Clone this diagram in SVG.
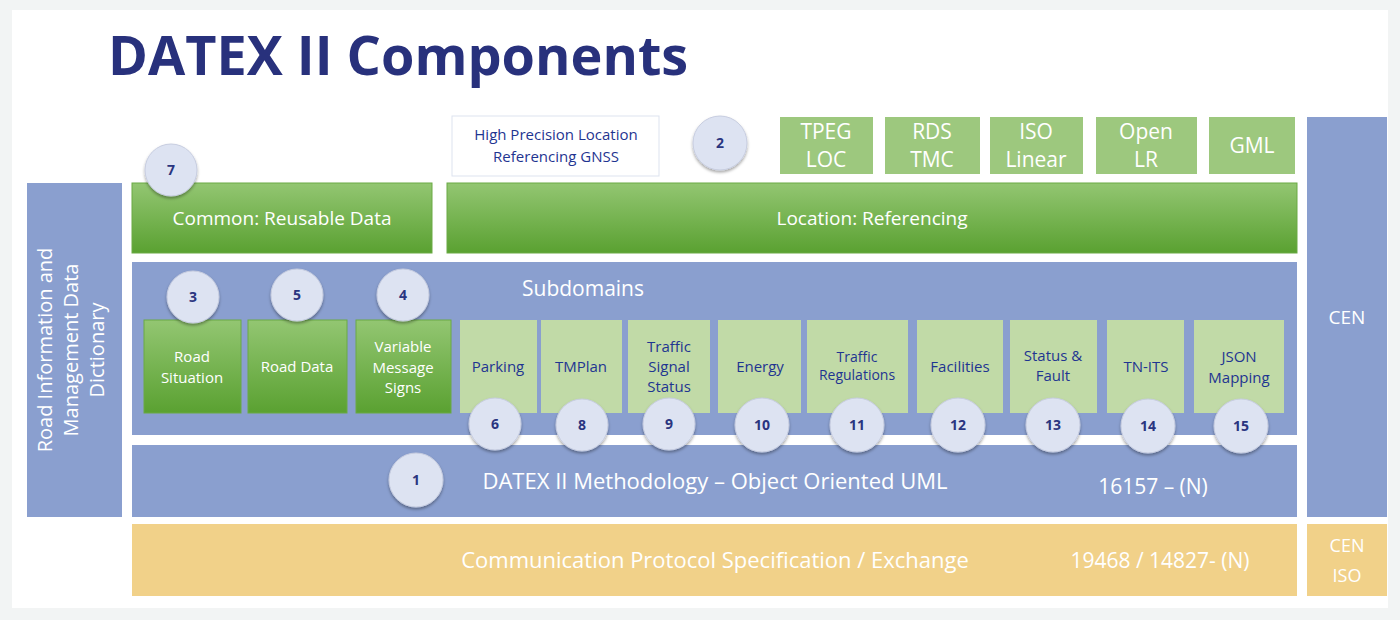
<svg xmlns="http://www.w3.org/2000/svg" width="1400" height="620" viewBox="0 0 1400 620">
<defs>
<linearGradient id="g" x1="0" y1="0" x2="0" y2="1"><stop offset="0" stop-color="#93c672"/><stop offset="1" stop-color="#5aa131"/></linearGradient>
<filter id="sh" x="-30%" y="-30%" width="160%" height="170%"><feDropShadow dx="0" dy="2" stdDeviation="1.5" flood-color="#000" flood-opacity="0.35"/></filter>
<style>
text{font-family:"Open Sans","Noto Sans",sans-serif;text-anchor:middle}
.blue{fill:#8a9fcf}
.dg{fill:url(#g);stroke:#6aaa45;stroke-width:1}
.lg{fill:#c1daa7}
.tg{fill:#9dc87e}
.yel{fill:#f1d189}
.w{fill:#fff}
.d{fill:#1f3591;font-size:15px}
.c circle{fill:#dde3f2;stroke:#c7cde0;filter:url(#sh)}
.c text{fill:#2a3580;font-weight:bold;font-size:14px}
</style>
</defs>
<rect width="1400" height="620" fill="#f2f4f4"/>
<rect x="12" y="10" width="1376" height="598" fill="#fff"/>
<text x="108" y="75" style="text-anchor:start;font-size:54px;font-weight:bold;fill:#28317c;font-family:'Open Sans',sans-serif">DATEX II Components</text>

<g id="dictionary"><rect class="blue" x="27" y="183" width="95" height="334"/>
<text transform="translate(74,350) rotate(-90)" class="w" style="font-size:20px"><tspan x="0" y="-22">Road Information and</tspan><tspan x="0" y="4">Management Data</tspan><tspan x="0" y="30">Dictionary</tspan></text></g>

<g id="common"><rect class="dg" x="132" y="183" width="300" height="70"/><text x="282" y="225" class="w" style="font-size:19px">Common: Reusable Data</text></g>
<g id="location"><rect class="dg" x="447" y="183" width="850" height="70"/><text x="872" y="225" class="w" style="font-size:19px">Location: Referencing</text></g>
<g id="hplr"><rect x="452" y="116" width="207" height="60" fill="#fff" stroke="#dde3ef"/><text class="d" x="556" y="140">High Precision Location</text><text class="d" x="556" y="162">Referencing GNSS</text></g>

<g id="tpeg"><rect class="tg" x="780" y="117" width="93" height="57"/><text class="w" x="826" y="139" style="font-size:21px">TPEG</text><text class="w" x="826" y="167" style="font-size:21px">LOC</text></g>
<g id="rds"><rect class="tg" x="885" y="117" width="95" height="57"/><text class="w" x="932" y="139" style="font-size:21px">RDS</text><text class="w" x="932" y="167" style="font-size:21px">TMC</text></g>
<g id="iso"><rect class="tg" x="990" y="117" width="93" height="57"/><text class="w" x="1036" y="139" style="font-size:21px">ISO</text><text class="w" x="1036" y="167" style="font-size:21px">Linear</text></g>
<g id="openlr"><rect class="tg" x="1096" y="117" width="101" height="57"/><text class="w" x="1146" y="139" style="font-size:21px">Open</text><text class="w" x="1146" y="167" style="font-size:21px">LR</text></g>
<g id="gml"><rect class="tg" x="1209" y="117" width="86" height="57"/><text class="w" x="1252" y="153" style="font-size:21px">GML</text></g>

<g id="cen"><rect class="blue" x="1307" y="117" width="80" height="400"/><text class="w" x="1347" y="324" style="font-size:19px">CEN</text></g>
<g id="ceniso"><rect class="yel" x="1307" y="524" width="80" height="72"/><text class="w" x="1347" y="552" style="font-size:18px">CEN</text><text class="w" x="1347" y="582" style="font-size:18px">ISO</text></g>

<g id="subdomains"><rect class="blue" x="132" y="262" width="1165" height="173"/><text class="w" x="583" y="296" style="font-size:21px">Subdomains</text></g>
<g id="roadsituation"><rect class="dg" x="144" y="320" width="97" height="93"/><text class="w" x="192" y="362" style="font-size:15px">Road</text><text class="w" x="192" y="383" style="font-size:15px">Situation</text></g>
<g id="roaddata"><rect class="dg" x="248" y="320" width="99" height="93"/><text class="w" x="297" y="372" style="font-size:15px">Road Data</text></g>
<g id="vms"><rect class="dg" x="356" y="320" width="95" height="93"/><text class="w" x="403" y="352" style="font-size:15px">Variable</text><text class="w" x="403" y="373" style="font-size:15px">Message</text><text class="w" x="403" y="393" style="font-size:15px">Signs</text></g>
<g id="parking"><rect class="lg" x="460" y="320" width="77" height="93"/><text class="d" x="498" y="372">Parking</text></g>
<g id="tmplan"><rect class="lg" x="541" y="320" width="81" height="93"/><text class="d" x="581" y="372">TMPlan</text></g>
<g id="tss"><rect class="lg" x="628" y="320" width="82" height="93"/><text class="d" x="669" y="352">Traffic</text><text class="d" x="669" y="372">Signal</text><text class="d" x="669" y="392">Status</text></g>
<g id="energy"><rect class="lg" x="718" y="320" width="83" height="93"/><text class="d" x="760" y="372">Energy</text></g>
<g id="regs"><rect class="lg" x="807" y="320" width="101" height="93"/><text class="d" x="857" y="362" style="font-size:14px">Traffic</text><text class="d" x="857" y="380" style="font-size:14px">Regulations</text></g>
<g id="facilities"><rect class="lg" x="917" y="320" width="86" height="93"/><text class="d" x="960" y="372">Facilities</text></g>
<g id="status"><rect class="lg" x="1010" y="320" width="87" height="93"/><text class="d" x="1053" y="361">Status &amp;</text><text class="d" x="1053" y="381">Fault</text></g>
<g id="tnits"><rect class="lg" x="1107" y="320" width="77" height="93"/><text class="d" x="1146" y="372">TN-ITS</text></g>
<g id="json"><rect class="lg" x="1194" y="320" width="90" height="93"/><text class="d" x="1239" y="362">JSON</text><text class="d" x="1239" y="383">Mapping</text></g>

<g id="methodology"><rect class="blue" x="132" y="445" width="1165" height="72"/><text class="w" x="715" y="489" style="font-size:22px">DATEX II Methodology – Object Oriented UML</text><text class="w" x="1153" y="494" style="font-size:21px">16157 – (N)</text></g>
<g id="communication"><rect class="yel" x="132" y="524" width="1165" height="72"/><text class="w" x="715" y="568" style="font-size:22px">Communication Protocol Specification / Exchange</text><text class="w" x="1160" y="568" style="font-size:21px">19468 / 14827- (N)</text></g>

<g id="badges" class="c">
<g><circle cx="720" cy="143" r="27"/><text x="720" y="148">2</text></g>
<g><circle cx="171" cy="170" r="26"/><text x="171" y="175">7</text></g>
<g><circle cx="193" cy="297" r="26"/><text x="193" y="302">3</text></g>
<g><circle cx="297" cy="295" r="26"/><text x="297" y="300">5</text></g>
<g><circle cx="403" cy="295" r="26"/><text x="403" y="300">4</text></g>
<g><circle cx="495" cy="424" r="26"/><text x="495" y="429">6</text></g>
<g><circle cx="582" cy="425" r="26"/><text x="582" y="430">8</text></g>
<g><circle cx="669" cy="424" r="26"/><text x="669" y="429">9</text></g>
<g><circle cx="762" cy="425" r="27"/><text x="762" y="430">10</text></g>
<g><circle cx="857" cy="425" r="27"/><text x="857" y="430">11</text></g>
<g><circle cx="958" cy="425" r="27"/><text x="958" y="430">12</text></g>
<g><circle cx="1053" cy="425" r="27"/><text x="1053" y="430">13</text></g>
<g><circle cx="1148" cy="426" r="27"/><text x="1148" y="431">14</text></g>
<g><circle cx="1241" cy="426" r="27"/><text x="1241" y="431">15</text></g>
<g><circle cx="416" cy="480" r="27"/><text x="416" y="485">1</text></g>
</g>
<g id="connectors"/>
</svg>
